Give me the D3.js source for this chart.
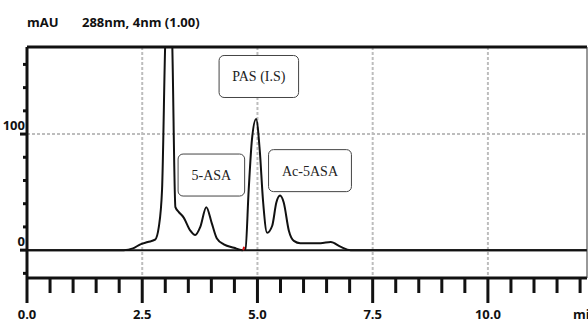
<!DOCTYPE html>
<html>
<head>
<meta charset="utf-8">
<script src="https://cdn.jsdelivr.net/npm/d3@7"></script>
<style>
  body { margin: 0; background: #fff; }
  .axis-label { font-family: "Open Sans", sans-serif; font-weight: bold; font-size: 13px; fill: #111; }
  .ann { font-family: "Liberation Serif", "Times New Roman", serif; font-size: 14px; fill: #222; }
</style>
</head>
<body>
<div id="chart"></div>
<script>
  // retention time (min) and absorbance (mAU)
  var times = [0, 1.0, 1.6, 2.1, 2.3, 2.46, 2.62, 2.78, 2.86, 2.93, 3.0, 3.07, 3.15, 3.22, 3.29, 3.4,
    3.54, 3.65, 3.76, 3.89, 4.01, 4.12, 4.27, 4.49, 4.67, 4.74, 4.81, 4.88, 4.97, 5.05, 5.12,
    5.21, 5.32, 5.41, 5.49, 5.57, 5.68, 5.79, 5.93, 6.15, 6.37, 6.59, 6.8, 7.02, 8.0, 12.2];
  var absorb = [0, 0, 0, 0, 1.5, 5, 7, 9, 20, 52, 180, 240, 180, 37, 33, 28,
    17, 13, 20, 37, 23, 10, 5, 2, 0, 1, 52, 95, 113, 86, 43,
    15, 21, 41, 47, 41, 17, 8, 6, 6, 6, 7, 3, 0, 0, 0];

  var xTicks = [0, 2.5, 5.0, 7.5, 10.0];
  var xMinorTicks = d3.range(0, 12.01, 0.5);
  var yTicks = [0, 100];
  var yMinorTicks = d3.range(-20, 161, 20);

  var labels = ['PAS (I.S)', '5-ASA', 'Ac-5ASA'];
  var labelTimes = [5.03, 4.0, 6.14];
  var labelValues = [149.6, 64.7, 68.5];
  var markerTime = 4.69;

  var width = 588, height = 323;
  var m = { left: 27, right: 1, top: 47, bottom: 45 };

  var svg = d3.select('#chart').append('svg')
    .attr('width', width)
    .attr('height', height);

  var x = d3.scaleLinear().domain([0, 12.15]).range([m.left, width - m.right]);
  var y = d3.scaleLinear().domain([-24, 175]).range([height - m.bottom, m.top]);

  // header
  svg.append('text').attr('class', 'axis-label').attr('x', 27).attr('y', 27).text('mAU');
  svg.append('text').attr('class', 'axis-label').attr('x', 82).attr('y', 27).text('288nm, 4nm (1.00)');

  svg.append('clipPath').attr('id', 'clip')
    .append('rect')
    .attr('x', m.left).attr('y', m.top)
    .attr('width', width - m.left - m.right)
    .attr('height', height - m.top - m.bottom);

  // dotted grid
  var grid = svg.append('g').attr('stroke', '#bdbdbd').attr('stroke-width', 2).attr('stroke-dasharray', '3,2');
  grid.selectAll('.vg').data(xTicks.slice(1)).enter().append('line')
    .attr('x1', function(d) { return x(d); }).attr('x2', function(d) { return x(d); })
    .attr('y1', m.top).attr('y2', height - m.bottom);
  grid.append('line')
    .attr('x1', m.left).attr('x2', width - m.right)
    .attr('y1', y(100)).attr('y2', y(100));

  // zero baseline
  svg.append('line')
    .attr('x1', m.left).attr('x2', width - m.right)
    .attr('y1', y(0)).attr('y2', y(0))
    .attr('stroke', '#111').attr('stroke-width', 2);

  // trace
  var data = times.map(function(t, i) { return { t: t, v: absorb[i] }; });
  var line = d3.line()
    .x(function(d) { return x(d.t); })
    .y(function(d) { return y(d.v); })
    .curve(d3.curveMonotoneX);

  svg.append('path')
    .datum(data)
    .attr('clip-path', 'url(#clip)')
    .attr('fill', 'none')
    .attr('stroke', '#111')
    .attr('stroke-width', 2)
    .attr('d', line);

  // integration marker
  svg.append('line')
    .attr('x1', x(markerTime)).attr('x2', x(markerTime) + 1)
    .attr('y1', y(0)).attr('y2', y(3))
    .attr('stroke', '#e01010').attr('stroke-width', 2);

  // frame
  svg.append('line').attr('x1', m.left).attr('x2', width - m.right).attr('y1', m.top).attr('y2', m.top)
    .attr('stroke', '#111').attr('stroke-width', 3);
  svg.append('line').attr('x1', m.left).attr('x2', width - m.right).attr('y1', height - m.bottom).attr('y2', height - m.bottom)
    .attr('stroke', '#111').attr('stroke-width', 3);
  svg.append('line').attr('x1', m.left).attr('x2', m.left).attr('y1', m.top).attr('y2', height - m.bottom)
    .attr('stroke', '#111').attr('stroke-width', 3);
  svg.append('line').attr('x1', width - m.right).attr('x2', width - m.right).attr('y1', m.top).attr('y2', height - m.bottom)
    .attr('stroke', '#333').attr('stroke-width', 1);

  // x ticks
  var xb = height - m.bottom;
  svg.selectAll('.xt').data(xMinorTicks).enter().append('line')
    .attr('x1', function(d) { return x(d); }).attr('x2', function(d) { return x(d); })
    .attr('y1', xb)
    .attr('y2', function(d) { return xTicks.indexOf(d) >= 0 ? xb + 25 : xb + 15; })
    .attr('stroke', '#111').attr('stroke-width', 3);
  svg.selectAll('.xl').data(xTicks).enter().append('text')
    .attr('class', 'axis-label')
    .attr('x', function(d) { return x(d); })
    .attr('y', 319)
    .attr('text-anchor', 'middle')
    .text(function(d) { return d.toFixed(1); });
  svg.append('text').attr('class', 'axis-label').attr('x', 573).attr('y', 319).text('min');

  // y ticks
  svg.selectAll('.yt').data(yMinorTicks).enter().append('line')
    .attr('x1', function(d) { return yTicks.indexOf(d) >= 0 ? m.left - 7 : m.left - 4; })
    .attr('x2', m.left)
    .attr('y1', function(d) { return y(d); }).attr('y2', function(d) { return y(d); })
    .attr('stroke', '#111').attr('stroke-width', 3);
  svg.selectAll('.yl').data(yTicks).enter().append('text')
    .attr('class', 'axis-label')
    .attr('x', 25)
    .attr('y', function(d) { return y(d) - 4; })
    .attr('text-anchor', 'end')
    .text(function(d) { return d; });

  // peak annotations
  var ann = svg.selectAll('.ann-g').data(labels).enter().append('g')
    .attr('transform', function(d, i) {
      return 'translate(' + x(labelTimes[i]) + ',' + y(labelValues[i]) + ')';
    });
  ann.append('text')
    .attr('class', 'ann')
    .attr('text-anchor', 'middle')
    .attr('dy', '0.35em')
    .text(function(d) { return d; });
  ann.insert('rect', 'text')
    .each(function() {
      var b = this.parentNode.querySelector('text').getBBox();
      var w = b.width + 26, h = 42;
      d3.select(this)
        .attr('x', -w / 2).attr('y', -h / 2)
        .attr('width', w).attr('height', h);
    })
    .attr('rx', 5)
    .attr('fill', '#fff')
    .attr('stroke', '#444')
    .attr('stroke-width', 1);
</script>
</body>
</html>
